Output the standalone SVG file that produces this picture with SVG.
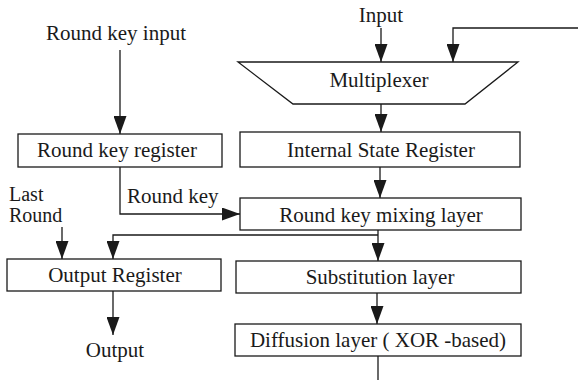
<svg xmlns="http://www.w3.org/2000/svg" width="578" height="380" viewBox="0 0 578 380">
<style>
  text { font-family: "Liberation Serif", "Times New Roman", serif; font-size: 21px; fill: #1a1a1a; }
  .c { text-anchor: middle; }
  .sm { font-size: 20px; }
  .box { fill: #fff; stroke: #1a1a1a; stroke-width: 1.3; }
  .ln { fill: none; stroke: #1a1a1a; stroke-width: 1.3; }
</style>
<defs>
  <marker id="ah" markerUnits="userSpaceOnUse" markerWidth="18" markerHeight="13" refX="18" refY="6.5" orient="auto">
    <path d="M0,0 L18,6.5 L0,13 z" fill="#1a1a1a"/>
  </marker>
</defs>
<rect width="578" height="380" fill="#fff"/>
<g id="connectors">
  <path class="ln" d="M381,28 V62" marker-end="url(#ah)"/>
  <path class="ln" d="M578,28 H453 V62" marker-end="url(#ah)"/>
  <path class="ln" d="M381,104 V132" marker-end="url(#ah)"/>
  <path class="ln" d="M380,167 V198" marker-end="url(#ah)"/>
  <path class="ln" d="M120,50 V134" marker-end="url(#ah)"/>
  <path class="ln" d="M120,167 V214 H240" marker-end="url(#ah)"/>
  <path class="ln" d="M378,230 V261" marker-end="url(#ah)"/>
  <path class="ln" d="M378,235 H113 V259" marker-end="url(#ah)"/>
  <path class="ln" d="M62,227 V259" marker-end="url(#ah)"/>
  <path class="ln" d="M113,291 V335" marker-end="url(#ah)"/>
  <path class="ln" d="M377,293 V324" marker-end="url(#ah)"/>
  <path class="ln" d="M378,352 V380"/>
</g>
<g id="input-label"><text class="c" x="381" y="22">Input</text></g>
<g id="multiplexer">
  <polygon class="box" points="238,62 518,62 465,104 293,104"/>
  <text class="c" x="379" y="87">Multiplexer</text>
</g>
<g id="internal-state-register">
  <rect class="box" x="240" y="132" width="280" height="35"/>
  <text class="c" x="381" y="157">Internal State Register</text>
</g>
<g id="round-key-input"><text class="c" x="116" y="40">Round key input</text></g>
<g id="round-key-register">
  <rect class="box" x="18" y="134" width="204" height="33"/>
  <text class="c" x="117" y="157">Round key register</text>
</g>
<g id="round-key-label"><text x="127" y="203">Round key</text></g>
<g id="last-round-label">
  <text class="sm" x="9" y="201">Last</text>
  <text class="sm" x="9" y="222">Round</text>
</g>
<g id="round-key-mixing-layer">
  <rect class="box" x="240" y="198" width="281" height="32"/>
  <text class="c" x="381" y="222">Round key mixing layer</text>
</g>
<g id="output-register">
  <rect class="box" x="7" y="259" width="214" height="32"/>
  <text class="c" x="115" y="282">Output Register</text>
</g>
<g id="output-label"><text class="c" x="115" y="357">Output</text></g>
<g id="substitution-layer">
  <rect class="box" x="236" y="261" width="285" height="32"/>
  <text class="c" x="380" y="284">Substitution layer</text>
</g>
<g id="diffusion-layer">
  <rect class="box" x="235" y="324" width="286" height="32"/>
  <text class="c" x="378" y="347">Diffusion layer ( XOR -based)</text>
</g>
</svg>
